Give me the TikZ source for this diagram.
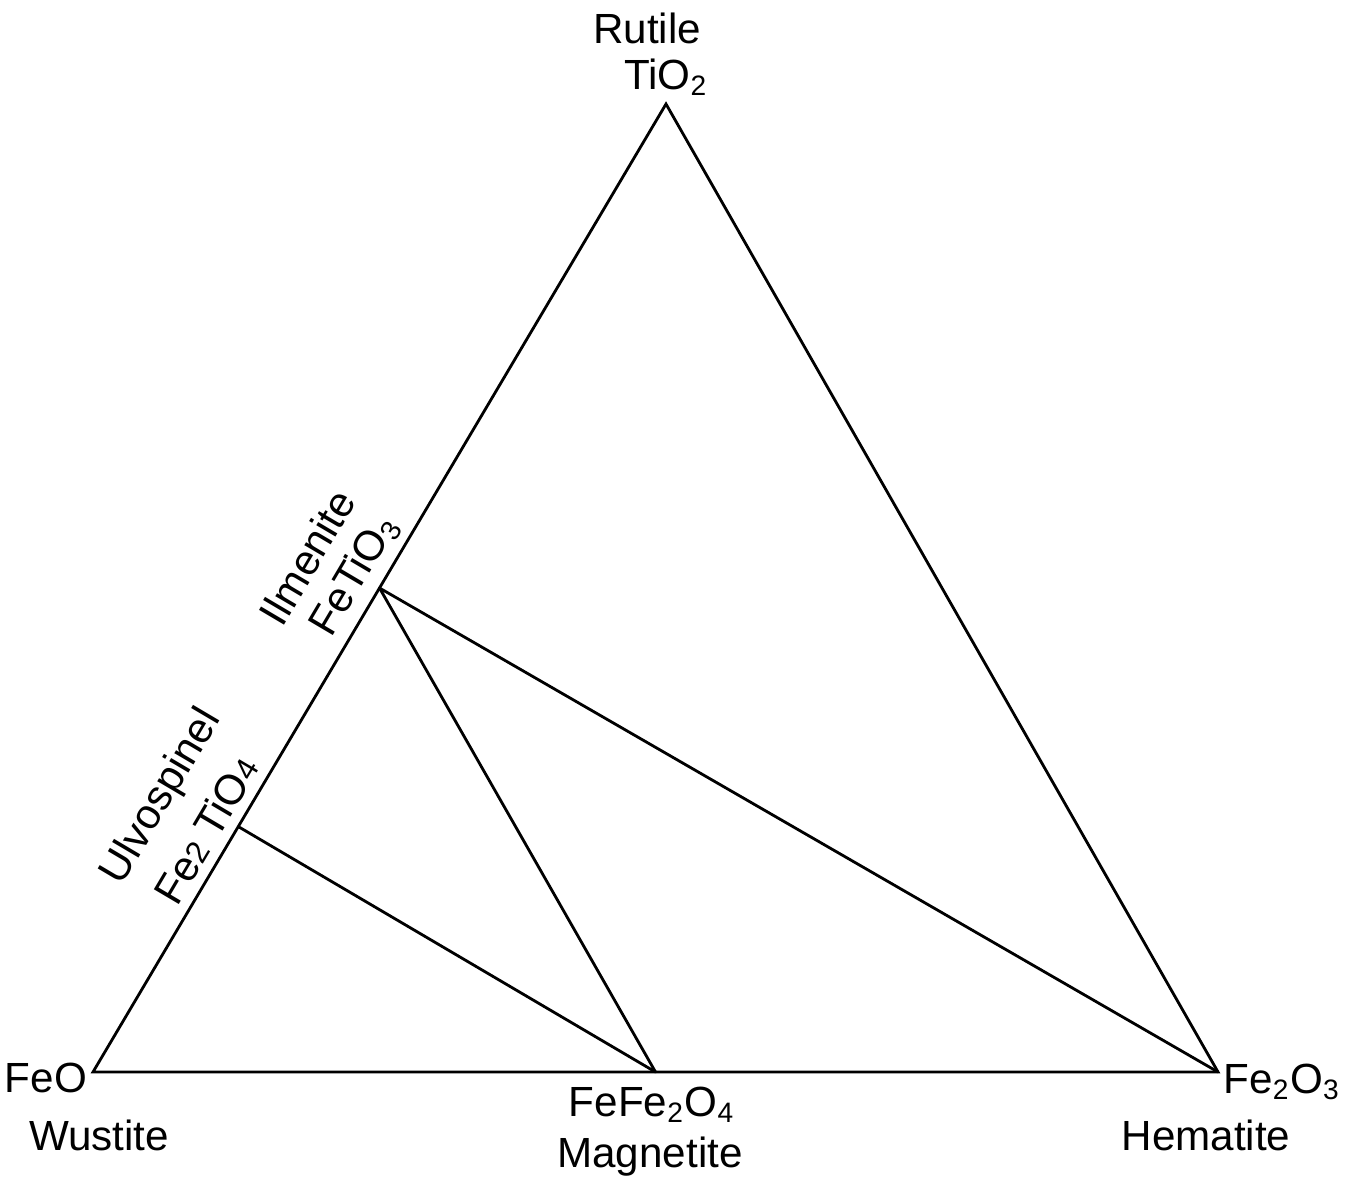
\documentclass[tikz,border=0pt]{standalone}
\usepackage{fontspec}
\setmainfont{Liberation Sans}
\usepackage{tkz-euclide}

\begin{document}
\begin{tikzpicture}[
  lbl/.style={font=\fontsize{12}{14}\selectfont,inner sep=0pt},
  edge/.style={rotate=59.4}]
\useasboundingbox (0,0) rectangle (13.55,11.80);
\tkzSetUpLine[line width=.8pt,color=black]

% corners of the triangle
\tkzDefPoints{0.93/1.08/W,12.18/1.08/H,6.66/10.76/R}
\tkzDefMidPoint(W,R) \tkzGetPoint{I}
\tkzDefMidPoint(W,H) \tkzGetPoint{M}
\tkzDefPoints{2.39/3.53/U}

\tkzDrawPolygon[line join=miter](W,H,R)
\tkzDrawSegments(I,H I,M U,M)

% labels
\node[lbl] (rutile) at (6.47,11.52) {Rutile};
\node[lbl] (tio2) at (6.66,11.03) {TiO\textsubscript{2}};
\node[lbl] (feo) at (0.46,1.02) {FeO};
\node[lbl] (wustite) at (0.99,0.45) {Wustite};
\node[lbl] (fefe2o4) at (6.52,0.75) {FeFe\textsubscript{2}O\textsubscript{4}};
\node[lbl] (magnetite) at (6.50,0.23) {Magnetite};
\node[lbl] (fe2o3) at (12.82,0.98) {Fe\textsubscript{2}O\textsubscript{3}};
\node[lbl] (hematite) at (12.06,0.45) {Hematite};
\node[lbl,edge] (ilmenite) at (3.07,6.23) {Ilmenite};
\node[lbl,edge] (fetio3) at (3.55,6.05) {FeTiO\textsubscript{3}};
\node[lbl,edge] (ulvospinel) at (1.62,3.83) {Ulvospinel};
\node[lbl,edge] (fe2tio4) at (2.06,3.50) {Fe{\small 2} TiO{\small 4}};

\end{tikzpicture}
\end{document}
